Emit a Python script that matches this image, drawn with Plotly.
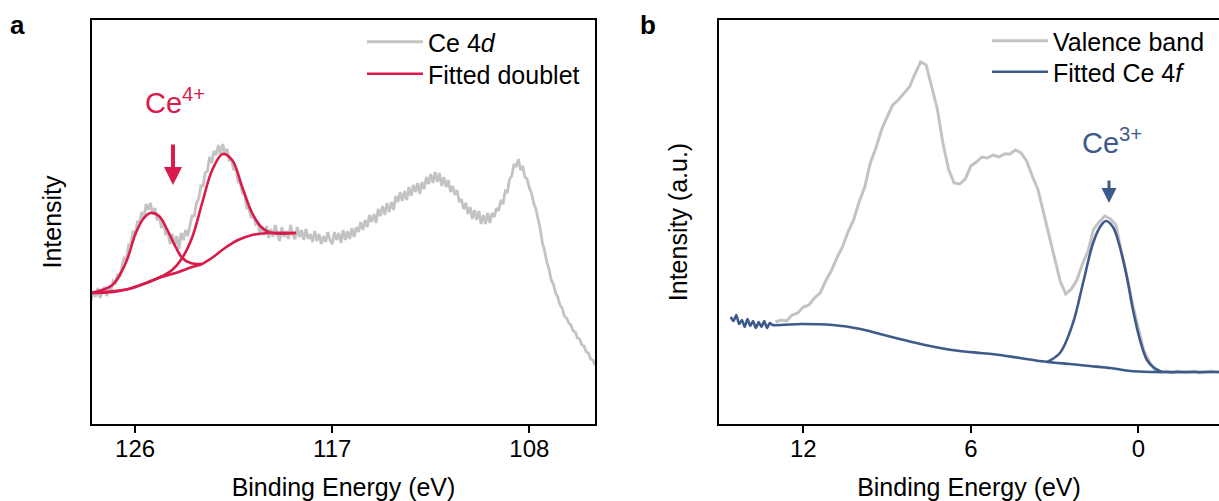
import plotly.graph_objects as go

# ---------------- Panel a : Ce 4d ----------------
ce4d_energy = [128.0,127.9,127.8,127.7,127.6,127.5,127.4,127.3,127.2,127.1,
               127.0,126.9,126.8,126.7,126.6,126.5,126.4,126.3,126.2,126.1,
               126.0,125.9,125.8,125.7,125.6,125.5,125.4,125.3,125.2,125.1,
               125.0,124.9,124.8,124.7,124.6,124.5,124.4,124.3,124.2,124.1,
               124.0,123.9,123.8,123.7,123.6,123.5,123.4,123.3,123.2,123.1,
               123.0,122.9,122.8,122.7,122.6,122.5,122.4,122.3,122.2,122.1,
               122.0,121.9,121.8,121.7,121.6,121.5,121.4,121.3,121.2,121.1,
               121.0,120.9,120.8,120.7,120.6,120.5,120.4,120.3,120.2,120.1,
               120.0,119.9,119.8,119.7,119.6,119.5,119.4,119.3,119.2,119.1,
               119.0,118.9,118.8,118.7,118.6,118.5,118.4,118.3,118.2,118.1,
               118.0,117.9,117.8,117.7,117.6,117.5,117.4,117.3,117.2,117.1,
               117.0,116.9,116.8,116.7,116.6,116.5,116.4,116.3,116.2,116.1,
               116.0,115.9,115.8,115.7,115.6,115.5,115.4,115.3,115.2,115.1,
               115.0,114.9,114.8,114.7,114.6,114.5,114.4,114.3,114.2,114.1,
               114.0,113.9,113.8,113.7,113.6,113.5,113.4,113.3,113.2,113.1,
               113.0,112.9,112.8,112.7,112.6,112.5,112.4,112.3,112.2,112.1,
               112.0,111.9,111.8,111.7,111.6,111.5,111.4,111.3,111.2,111.1,
               111.0,110.9,110.8,110.7,110.6,110.5,110.4,110.3,110.2,110.1,
               110.0,109.9,109.8,109.7,109.6,109.5,109.4,109.3,109.2,109.1,
               109.0,108.9,108.8,108.7,108.6,108.5,108.4,108.3,108.2,108.1,
               108.0,107.9,107.8,107.7,107.6,107.5,107.4,107.3,107.2,107.1,
               107.0,106.9,106.8,106.7,106.6,106.5,106.4,106.3,106.2,106.1,
               106.0,105.9,105.8,105.7,105.6,105.5,105.4,105.3,105.2,105.1,
               105.0]
ce4d_intensity = [124,133,127,136,126,133,137,128,135,134,
                  143,141,150,147,158,166,164,179,179,193,
                  189,202,202,212,205,220,214,221,210,216,
                  204,208,196,202,189,192,180,190,178,188,
                  175,191,184,194,188,200,208,208,221,225,
                  238,238,251,253,267,261,273,269,279,270,
                  280,271,275,263,265,254,256,242,241,231,
                  230,216,216,206,209,200,202,190,198,189,
                  198,186,195,187,199,189,183,197,187,193,
                  185,199,189,185,197,187,194,184,195,185,
                  190,182,193,183,190,180,188,182,192,184,
                  180,192,184,191,181,194,184,193,185,196,
                  187,197,192,202,194,204,197,209,202,210,
                  201,215,208,218,209,221,212,222,214,228,
                  222,232,223,233,224,237,228,239,232,241,
                  230,242,235,247,240,250,241,252,242,251,
                  238,247,237,244,232,238,229,234,222,225,
                  215,221,210,217,205,214,204,213,200,209,
                  200,211,201,211,207,216,213,224,220,233,
                  232,245,248,260,257,265,254,258,247,245,
                  236,231,221,215,206,195,181,173,162,155,
                  144,140,131,127,119,116,108,106,101,99,
                  93,92,86,85,79,78,72,71,65,64,
                  59]

# fitted doublet: background and the two components
fit_bg_energy = [128.0,127.0,126.3,125.5,124.8,124.15,123.4,122.95,122.5,121.9,121.3,120.65,119.9,118.65]
fit_bg_int    = [131,132,135,141,147,151,157,160,166,176,184,189,191,191]
fit_p1_energy = [128.0,127.04,126.43,125.97,125.6,125.29,124.91,124.53,124.15,123.85,123.47,122.94]
fit_p1_int    = [131,139,161,191,206,211,208,194,177,166,161,160]
fit_p2_energy = [128.0,126.3,125.5,124.76,124.31,123.85,123.39,122.94,122.48,122.0,121.57,121.11,120.66,120.2,119.75,118.68]
fit_p2_int    = [131,135,141,148,154,166,187,221,254,270,264,237,211,196,191,191]

# ---------------- Panel b : valence band ----------------
vb_energy = [13.0,12.8,12.6,12.4,12.2,12.0,11.8,11.6,11.4,11.2,
             11.0,10.8,10.6,10.4,10.2,10.0,9.8,9.6,9.4,9.2,
             9.0,8.8,8.6,8.4,8.2,8.0,7.8,7.6,7.4,7.2,
             7.0,6.8,6.6,6.4,6.2,6.0,5.8,5.6,5.4,5.2,
             5.0,4.8,4.6,4.4,4.2,4.0,3.8,3.6,3.4,3.2,
             3.0,2.8,2.6,2.4,2.2,2.0,1.8,1.6,1.4,1.2,
             1.0,0.8,0.6,0.4,0.2,0.0,-0.2,-0.4,-0.6,-0.8,
             -1.0,-1.2,-1.4,-1.6,-1.8,-2.0,-2.2,-2.4,-2.6,-2.8,-3.0]
vb_intensity = [102,104,103,109,111,117,119,126,131,143,
                153,166,177,192,204,222,237,261,276,294,
                307,319,324,331,337,350,362,359,338,315,
                281,255,241,240,245,258,262,267,266,269,
                267,270,270,274,271,263,248,235,212,189,
                167,143,130,135,144,160,173,195,202,208,
                205,199,171,147,119,95,73,62,54,52,
                53,51,53,52,52,53,51,52,53,52,52]

# fitted Ce 4f: background (starting with the measured tail) and the peak
f4_bg_energy = [14.6,14.5,14.4,14.3,14.2,14.1,14.0,13.9,13.8,13.7,13.6,13.5,13.4,13.3,13.2,13.1,
                12.1,10.95,9.95,9.25,8.55,7.8,7.1,6.4,5.65,4.95,4.25,3.25,2.45,1.75,1.0,0.3,-0.45,-3.0]
f4_bg_int    = [107,103,109,100,104,97,105,98,103,96,102,97,103,96,101,99,
                100,99,95,90,85,80,76,73,71,69,66,62,60,58,56,53,52,52]
f4_pk_energy = [3.27,2.81,2.34,1.98,1.62,1.37,1.16,0.91,0.66,0.41,0.19,-0.06,-0.31,-0.53,-0.85]
f4_pk_int    = [62,71,101,141,181,197,203,197,177,147,114,84,64,57,52]

# tick labels
tick_a = [126, 117, 108]
tick_b = [12, 6, 0]

GREY = "#C3C3C3"
RED = "#D81B4B"
BLUE = "#3E5A8B"
FONT = "Liberation Sans, Arial, sans-serif"

fig = go.Figure()

# panel a
fig.add_trace(go.Scatter(x=ce4d_energy, y=ce4d_intensity, mode="lines", name="Ce 4<i>d</i>",
                         line=dict(color=GREY, width=2.8), xaxis="x", yaxis="y", legend="legend"))
fig.add_trace(go.Scatter(x=fit_bg_energy, y=fit_bg_int, mode="lines", name="Fitted doublet",
                         line=dict(color=RED, width=2.6, shape="spline", smoothing=1.0),
                         xaxis="x", yaxis="y", legend="legend2"))
fig.add_trace(go.Scatter(x=fit_p1_energy, y=fit_p1_int, mode="lines", showlegend=False,
                         line=dict(color=RED, width=2.6, shape="spline", smoothing=1.0),
                         xaxis="x", yaxis="y"))
fig.add_trace(go.Scatter(x=fit_p2_energy, y=fit_p2_int, mode="lines", showlegend=False,
                         line=dict(color=RED, width=2.6, shape="spline", smoothing=1.0),
                         xaxis="x", yaxis="y"))

# panel b
fig.add_trace(go.Scatter(x=vb_energy, y=vb_intensity, mode="lines", name="Valence band",
                         line=dict(color=GREY, width=3), xaxis="x2", yaxis="y2", legend="legend3"))
fig.add_trace(go.Scatter(x=f4_bg_energy, y=f4_bg_int, mode="lines", name="Fitted Ce 4<i>f</i>",
                         line=dict(color=BLUE, width=2.6, shape="spline", smoothing=0.6),
                         xaxis="x2", yaxis="y2", legend="legend4"))
fig.add_trace(go.Scatter(x=f4_pk_energy, y=f4_pk_int, mode="lines", showlegend=False,
                         line=dict(color=BLUE, width=2.6, shape="spline", smoothing=1.0),
                         xaxis="x2", yaxis="y2"))

axis_common = dict(showgrid=False, zeroline=False, showline=True, linecolor="black", linewidth=2,
                   ticks="outside", ticklen=7, tickwidth=2, tickcolor="black", ticklabelstandoff=-5,
                   tickfont=dict(size=24, color="black", family=FONT))

ML, MR, MT, MB = 92, 0, 20, 77
W, H = 1219, 501
PW = W - ML - MR


def leg(px_left, py_top):
    return dict(x=(px_left - ML) / PW, y=(424 - py_top) / 404, xanchor="left", yanchor="top",
                bgcolor="rgba(0,0,0,0)", borderwidth=0, itemwidth=56,
                font=dict(size=25, family=FONT, color="black"))


fig.update_layout(
    width=W, height=H,
    margin=dict(l=ML, r=MR, t=MT, b=MB),
    paper_bgcolor="white", plot_bgcolor="white",
    font=dict(family=FONT, color="black"),
    xaxis=dict(domain=[0, (595 - 92) / PW], range=[127.97, 105.0], tickvals=tick_a,
               ticktext=[str(t) for t in tick_a], mirror=True,
               title=dict(text="Binding Energy (eV)", font=dict(size=25, family=FONT), standoff=19),
               anchor="y", **axis_common),
    yaxis=dict(domain=[0, 1], range=[0, 404], showticklabels=False, ticks="", mirror=True,
               showgrid=False, zeroline=False, showline=True, linecolor="black", linewidth=2,
               title=dict(text="Intensity", font=dict(size=25, family=FONT), standoff=21),
               anchor="x"),
    xaxis2=dict(domain=[(719 - 92) / PW, 1.0], range=[15.02, -2.89], tickvals=tick_b,
                ticktext=[str(t) for t in tick_b], mirror=True,
                title=dict(text="Binding Energy (eV)", font=dict(size=25, family=FONT), standoff=19),
                anchor="y2", **axis_common),
    yaxis2=dict(domain=[0, 1], range=[0, 404], showticklabels=False, ticks="", mirror=False,
                showgrid=False, zeroline=False, showline=True, linecolor="black", linewidth=2,
                title=dict(text="Intensity (a.u.)", font=dict(size=25, family=FONT), standoff=22),
                anchor="x2"),
    legend=leg(362, 19),
    legend2=leg(362, 51),
    legend3=leg(987, 18),
    legend4=leg(987, 49),
    showlegend=True,
)

annotations = [
    # panel labels
    dict(text="<b>a</b>", xref="paper", yref="paper", x=(17 - 92) / PW, y=(424 - 25) / 404,
         showarrow=False, font=dict(size=26, family=FONT, color="black"),
         xanchor="center", yanchor="middle"),
    dict(text="<b>b</b>", xref="paper", yref="paper", x=(648 - 92) / PW, y=(424 - 25) / 404,
         showarrow=False, font=dict(size=26, family=FONT, color="black"),
         xanchor="center", yanchor="middle"),
    # Ce4+ label and arrow
    dict(text="Ce<sup>4+</sup>", xref="x", yref="y", x=124.18, y=323, showarrow=False,
         font=dict(size=29, family=FONT, color=RED), xanchor="center", yanchor="middle"),
    dict(text="", xref="x", yref="y", x=124.27, y=239, ax=0, ay=-42, showarrow=True,
         arrowhead=2, arrowsize=0.9, arrowwidth=4, arrowcolor=RED),
    # Ce3+ label and arrow
    dict(text="Ce<sup>3+</sup>", xref="x2", yref="y2", x=0.94, y=283, showarrow=False,
         font=dict(size=29, family=FONT, color=BLUE), xanchor="center", yanchor="middle"),
    dict(text="", xref="x2", yref="y2", x=1.05, y=221, ax=0, ay=-24, showarrow=True,
         arrowhead=2, arrowsize=1.0, arrowwidth=3, arrowcolor=BLUE),
]
fig.update_layout(annotations=annotations)

fig.write_html("out.html")
